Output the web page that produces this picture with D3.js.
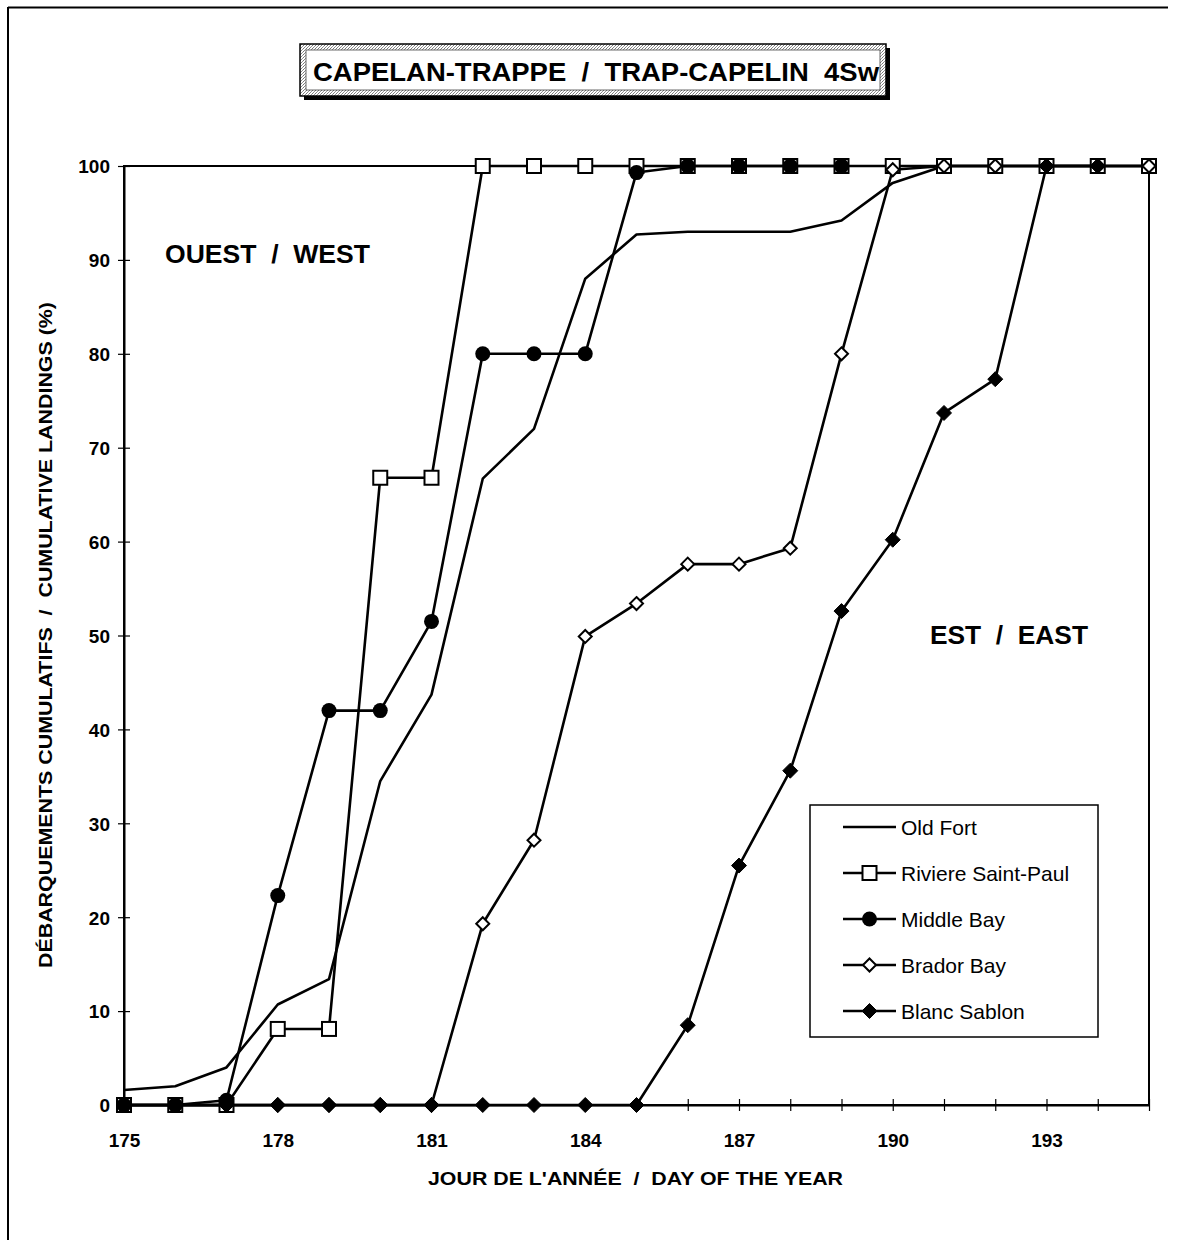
<!DOCTYPE html>
<html>
<head>
<meta charset="utf-8">
<script src="https://cdn.jsdelivr.net/npm/d3@7"></script>
<style>
  html, body { margin: 0; padding: 0; background: #fff; }
  svg { display: block; }
  text { font-family: "Liberation Sans", Arial, Helvetica, sans-serif; }
</style>
</head>
<body>
<svg id="chart" width="1177" height="1248"></svg>
<script>
// ---- Data ----
const days = [175,176,177,178,179,180,181,182,183,184,185,186,187,188,189,190,191,192,193,194,195];
const oldFort      = [1.6,2.0,4.0,10.7,13.4,34.5,43.7,66.7,72.0,88.0,92.7,93.0,93.0,93.0,94.2,98.2,100,100,100,100,100];
const riviereDays  = days;
const riviere      = [0,0,0,8.1,8.1,66.8,66.8,100,100,100,100,100,100,100,100,100,100,100,100,100,100];
const middleDays   = [175,176,177,178,179,180,181,182,183,184,185,186,187,188,189];
const middleBay    = [0,0,0.5,22.3,42.0,42.0,51.5,80.0,80.0,80.0,99.3,100,100,100,100];
const bradorDays   = days;
const bradorBay    = [0,0,0,0,0,0,0,19.3,28.2,49.9,53.4,57.6,57.6,59.3,80.0,99.6,100,100,100,100,100];
const blancDays    = [175,176,177,178,179,180,181,182,183,184,185,186,187,188,189,190,191,192,193,194];
const blancSablon  = [0,0,0,0,0,0,0,0,0,0,0,8.5,25.5,35.6,52.6,60.2,73.7,77.3,100,100];
const xTickLabels  = [175,178,181,184,187,190,193];
const yTickValues  = [0,10,20,30,40,50,60,70,80,90,100];
const seriesNames  = ["Old Fort","Riviere Saint-Paul","Middle Bay","Brador Bay","Blanc Sablon"];

// ---- Build ----
const svg = d3.select("#chart");
const x = d3.scaleLinear().domain([175,195]).range([124,1149]);
const y = d3.scaleLinear().domain([0,100]).range([1105,166]);

// outer figure frame (left & top)
svg.append("line").attr("x1",8).attr("x2",1168).attr("y1",7.5).attr("y2",7.5).attr("stroke","#000").attr("stroke-width",2);
svg.append("line").attr("x1",8).attr("x2",8).attr("y1",7).attr("y2",1240).attr("stroke","#000").attr("stroke-width",2);

// title box
const defs = svg.append("defs");
const pat = defs.append("pattern").attr("id","stip").attr("width",3).attr("height",3).attr("patternUnits","userSpaceOnUse");
pat.append("rect").attr("width",3).attr("height",3).attr("fill","#fff");
pat.append("rect").attr("width",1).attr("height",1).attr("fill","#777");
pat.append("rect").attr("x",2).attr("y",1).attr("width",1).attr("height",1).attr("fill","#999");
pat.append("rect").attr("x",1).attr("y",2).attr("width",1).attr("height",1).attr("fill","#888");
const tb = {x:300, y:44, w:586, h:52};
svg.append("rect").attr("x",tb.x+4).attr("y",tb.y+4).attr("width",tb.w).attr("height",tb.h).attr("fill","#000");
svg.append("rect").attr("x",tb.x).attr("y",tb.y).attr("width",tb.w).attr("height",tb.h).attr("fill","url(#stip)").attr("stroke","#000").attr("stroke-width",1.5);
svg.append("rect").attr("x",tb.x+6).attr("y",tb.y+6).attr("width",tb.w-12).attr("height",tb.h-12).attr("fill","#fff").attr("stroke","#444").attr("stroke-width",0.8);
svg.append("text").attr("x",313).attr("y",tb.y+37)
  .attr("font-size",26).attr("font-weight","bold").attr("xml:space","preserve")
  .attr("textLength",566).attr("lengthAdjust","spacingAndGlyphs")
  .text("CAPELAN-TRAPPE  /  TRAP-CAPELIN  4Sw");

// plot frame
svg.append("rect").attr("x",x(175)).attr("y",y(100)).attr("width",x(195)-x(175)).attr("height",y(0)-y(100))
  .attr("fill","none").attr("stroke","#000").attr("stroke-width",2);

// axes
const xAxis = d3.axisBottom(x).tickValues(d3.range(175,196)).tickSize(0)
  .tickFormat(d => xTickLabels.includes(d) ? d : "");
const gx = svg.append("g").attr("transform",`translate(0,${y(0)})`).call(xAxis);
gx.select(".domain").attr("stroke-width",2);
gx.selectAll(".tick line").attr("y1",-6).attr("y2",6).attr("stroke","#000").attr("stroke-width",1.2);
gx.selectAll(".tick text").attr("dy",0).attr("y",42).attr("font-size",19).attr("font-weight","bold")
  .attr("font-family","Liberation Sans, Arial, sans-serif").attr("fill","#000");

const yAxis = d3.axisLeft(y).tickValues(yTickValues).tickSize(0);
const gy = svg.append("g").attr("transform",`translate(${x(175)},0)`).call(yAxis);
gy.select(".domain").attr("stroke-width",2);
gy.selectAll(".tick line").attr("x1",-6).attr("x2",6).attr("stroke","#000").attr("stroke-width",1.2);
gy.selectAll(".tick text").attr("x",-14).attr("dy","0.36em").attr("font-size",19).attr("font-weight","bold")
  .attr("font-family","Liberation Sans, Arial, sans-serif").attr("fill","#000");

// axis titles
svg.append("text").attr("x",428).attr("y",1185).attr("font-size",19).attr("font-weight","bold")
  .attr("xml:space","preserve").attr("textLength",415).attr("lengthAdjust","spacingAndGlyphs")
  .text("JOUR DE L'ANNÉE  /  DAY OF THE YEAR");
svg.append("text").attr("transform","translate(52,968) rotate(-90)").attr("font-size",19).attr("font-weight","bold")
  .attr("xml:space","preserve").attr("textLength",666).attr("lengthAdjust","spacingAndGlyphs")
  .text("DÉBARQUEMENTS CUMULATIFS  /  CUMULATIVE LANDINGS (%)");

// region labels
svg.append("text").attr("x",165).attr("y",263).attr("font-size",26).attr("font-weight","bold").attr("xml:space","preserve")
  .attr("textLength",205).attr("lengthAdjust","spacingAndGlyphs").text("OUEST  /  WEST");
svg.append("text").attr("x",930).attr("y",644).attr("font-size",26).attr("font-weight","bold").attr("xml:space","preserve")
  .attr("textLength",158).attr("lengthAdjust","spacingAndGlyphs").text("EST  /  EAST");

// series
const series = [
  {name:seriesNames[0], xs:days,        ys:oldFort,     marker:"none"},
  {name:seriesNames[1], xs:riviereDays, ys:riviere,     marker:"square"},
  {name:seriesNames[2], xs:middleDays,  ys:middleBay,   marker:"circle"},
  {name:seriesNames[3], xs:bradorDays,  ys:bradorBay,   marker:"odiamond"},
  {name:seriesNames[4], xs:blancDays,   ys:blancSablon, marker:"fdiamond"}
];
const line = d3.line().x(d => x(d[0])).y(d => y(d[1]));

function drawMarker(g, type, cx, cy) {
  if (type === "square") {
    const s = 14;
    g.append("rect").attr("x",cx-s/2).attr("y",cy-s/2).attr("width",s).attr("height",s)
      .attr("fill","#fff").attr("stroke","#000").attr("stroke-width",2);
  } else if (type === "circle") {
    g.append("circle").attr("cx",cx).attr("cy",cy).attr("r",7.5).attr("fill","#000");
  } else if (type === "odiamond" || type === "fdiamond") {
    const r = type === "odiamond" ? 6.5 : 7.5;
    const p = d3.path();
    p.moveTo(cx,cy-r); p.lineTo(cx+r,cy); p.lineTo(cx,cy+r); p.lineTo(cx-r,cy); p.closePath();
    g.append("path").attr("d",p.toString())
      .attr("fill", type === "odiamond" ? "#fff" : "#000")
      .attr("stroke","#000").attr("stroke-width", type === "odiamond" ? 2 : 1);
  }
}

series.forEach(s => {
  const pts = s.xs.map((d,i) => [d, s.ys[i]]);
  svg.append("path").datum(pts).attr("d",line).attr("fill","none").attr("stroke","#000")
    .attr("stroke-width",2.6).attr("stroke-linejoin","round");
});
series.forEach(s => {
  if (s.marker === "none") return;
  const g = svg.append("g");
  s.xs.forEach((d,i) => drawMarker(g, s.marker, x(d), y(s.ys[i])));
});

// legend
const lg = svg.append("g");
lg.append("rect").attr("x",810).attr("y",805).attr("width",288).attr("height",232).attr("fill","#fff").attr("stroke","#000").attr("stroke-width",1.5);
series.forEach((s,i) => {
  const ly = 827 + i*46;
  lg.append("line").attr("x1",843).attr("x2",896).attr("y1",ly).attr("y2",ly).attr("stroke","#000").attr("stroke-width",2.5);
  if (s.marker !== "none") drawMarker(lg, s.marker, 869.5, ly);
  lg.append("text").attr("x",901).attr("y",ly).attr("dy","0.36em").attr("font-size",21).text(s.name);
});
</script>
</body>
</html>
